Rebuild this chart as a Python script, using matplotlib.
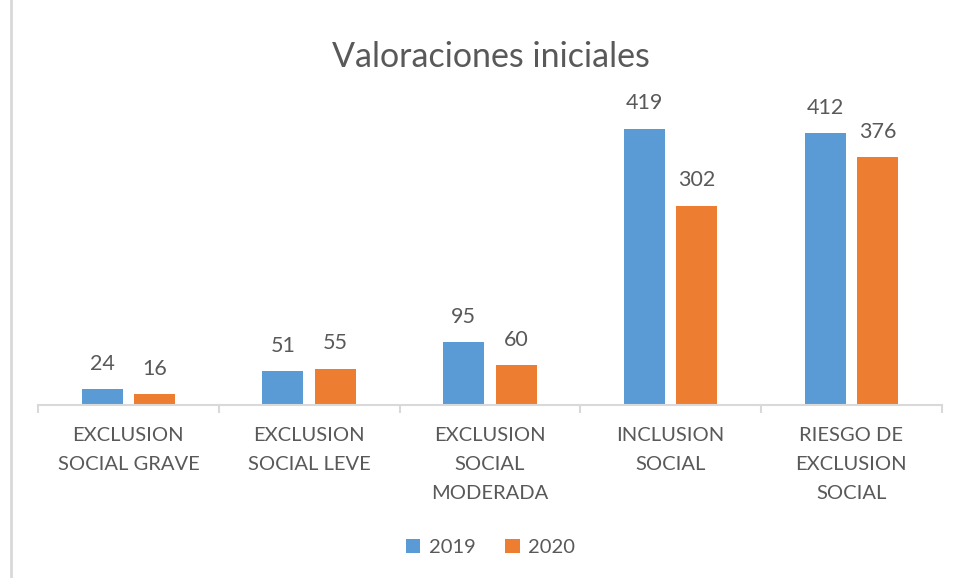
import matplotlib.pyplot as plt
import numpy as np

categories = ["EXCLUSION\nSOCIAL GRAVE", "EXCLUSION\nSOCIAL LEVE", "EXCLUSION\nSOCIAL\nMODERADA",
              "INCLUSION\nSOCIAL", "RIESGO DE\nEXCLUSION\nSOCIAL"]
values_2019 = [24, 51, 95, 419, 412]
values_2020 = [16, 55, 60, 302, 376]

plt.rcParams["font.family"] = ["Lato", "DejaVu Sans"]
text_color = "#595959"

fig = plt.figure(figsize=(9.58, 5.78), dpi=100)
ax = fig.add_axes([0.0397, 0.2993, 0.9433, 0.5137])

x = np.arange(len(categories))
w = 0.227
off = 0.145
b1 = ax.bar(x - off, values_2019, w, color="#5b9bd5", label="2019")
b2 = ax.bar(x + off, values_2020, w, color="#ed7d31", label="2020")

for bars in (b1, b2):
    for b in bars:
        ax.annotate(str(int(b.get_height())), (b.get_x() + b.get_width() / 2, b.get_height()),
                    xytext=(0, 11), textcoords="offset points", ha="center", va="bottom",
                    fontsize=15.5, color=text_color)

ax.set_xlim(-0.5, len(categories) - 0.5)
ax.set_ylim(0, 450)
ax.set_yticks([])
ax.set_xticks(x)
ax.set_xticklabels(categories, fontsize=14.5, color=text_color, linespacing=1.85)
ax.tick_params(axis="x", length=0, pad=16)
ax.set_xticks(np.arange(len(categories) + 1) - 0.5, minor=True)
ax.tick_params(axis="x", which="minor", length=6, color="#d9d9d9", width=1.5)
for s in ["top", "right", "left"]:
    ax.spines[s].set_visible(False)
ax.spines["bottom"].set_color("#d9d9d9")
ax.spines["bottom"].set_linewidth(1.5)

fig.text(0.512, 0.902, "Valoraciones iniciales", ha="center", va="center", fontsize=24.5, color=text_color)
fig.legend(loc="center", bbox_to_anchor=(0.512, 0.052), ncol=2, frameon=False, fontsize=14.5,
           handlelength=0.7, handleheight=0.7, handletextpad=0.4, columnspacing=1.5,
           labelcolor=text_color)

fig.add_artist(plt.Line2D([0.0115, 0.0115], [0, 1], color="#d9d9d9", lw=2, transform=fig.transFigure))

fig.savefig("out.png", dpi=100)
